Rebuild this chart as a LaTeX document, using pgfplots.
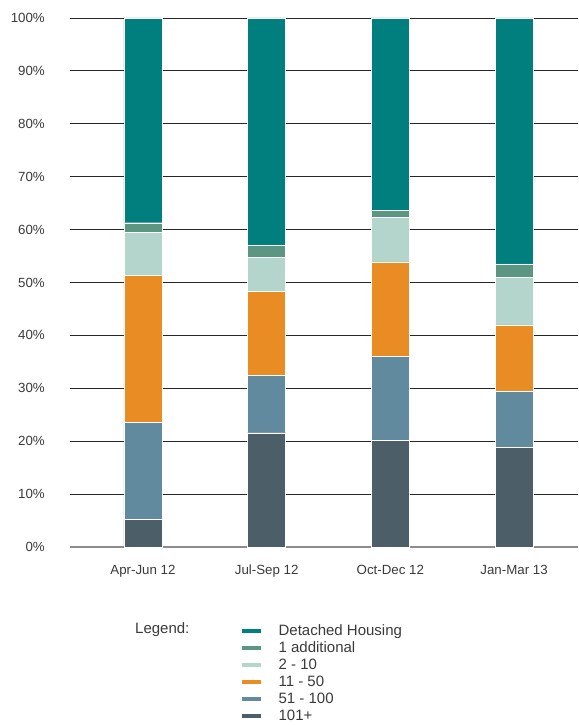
\documentclass[border=0pt]{standalone}
\usepackage{pgfplots}
\pgfplotsset{compat=1.18}
\usepackage{fontspec}
\setmainfont{Liberation Sans}
\definecolor{cDet}{HTML}{007F7E}
\definecolor{cOne}{HTML}{5A9682}
\definecolor{cTwo}{HTML}{B3D5CC}
\definecolor{cEl}{HTML}{EA8C24}
\definecolor{cFif}{HTML}{628A9E}
\definecolor{cHun}{HTML}{4C5F69}
\definecolor{txt}{HTML}{3A3A3A}
\begin{document}
\begin{tikzpicture}
\useasboundingbox (-70pt,-178pt) rectangle (508pt,547pt);
\begin{axis}[
  at={(0pt,0pt)}, anchor=south west,
  scale only axis, width=508pt, height=529pt,
  ybar stacked, bar width=38pt,
  xmin=-0.590, xmax=3.517, ymin=0, ymax=100,
  xtick={0,1,2,3},
  xticklabels={Apr-Jun 12, Jul-Sep 12, Oct-Dec 12, Jan-Mar 13},
  ytick={0,10,...,100},
  yticklabel={\pgfmathprintnumber{\tick}\%},
  /pgf/number format/assume math mode=true,
  axis lines*=left,
  y axis line style={draw=none},
  x axis line style={draw=gray!90, line width=1.2pt},
  major tick length=0pt,
  ymajorgrids,
  major grid style={draw=black!85, line width=0.8pt},
  ticklabel style={font=\fontsize{13.3}{15}\selectfont, text=txt},
  yticklabel style={anchor=east, inner sep=0pt, xshift=-25pt},
  xticklabel style={anchor=north, inner sep=0pt, yshift=-18pt},
  legend style={at={(axis description cs:0.3307,-0.1380)}, anchor=north west,
    draw=none, fill=none, font=\fontsize{15}{16}\selectfont, text=txt,
    row sep=0pt, column sep=17pt,
    nodes={inner sep=0pt, minimum height=17pt}},
  legend cell align=left,
  legend image code/.code={\fill (0pt,-2.5pt) rectangle (20pt,2.5pt);},
  reverse legend,
]
\addplot[fill=cHun, draw=white, line width=0.4pt] coordinates {(0,5.2) (1,21.6) (2,20.1) (3,18.9)};
\addlegendentry{101+}
\addplot[fill=cFif, draw=white, line width=0.4pt] coordinates {(0,18.4) (1,10.9) (2,16.0) (3,10.5)};
\addlegendentry{51 - 100}
\addplot[fill=cEl, draw=white, line width=0.4pt] coordinates {(0,27.8) (1,15.8) (2,17.8) (3,12.6)};
\addlegendentry{11 - 50}
\addplot[fill=cTwo, draw=white, line width=0.4pt] coordinates {(0,8.1) (1,6.5) (2,8.4) (3,9.0)};
\addlegendentry{2 - 10}
\addplot[fill=cOne, draw=white, line width=0.4pt] coordinates {(0,1.8) (1,2.3) (2,1.4) (3,2.5)};
\addlegendentry{1 additional}
\addplot[fill=cDet, draw=white, line width=0.4pt] coordinates {(0,38.7) (1,42.9) (2,36.3) (3,46.5)};
\addlegendentry{Detached Housing}
\end{axis}
\node[anchor=west, inner sep=0pt, font=\fontsize{15}{16}\selectfont, text=txt] at (65pt,-83pt) {Legend:};
\end{tikzpicture}
\end{document}
